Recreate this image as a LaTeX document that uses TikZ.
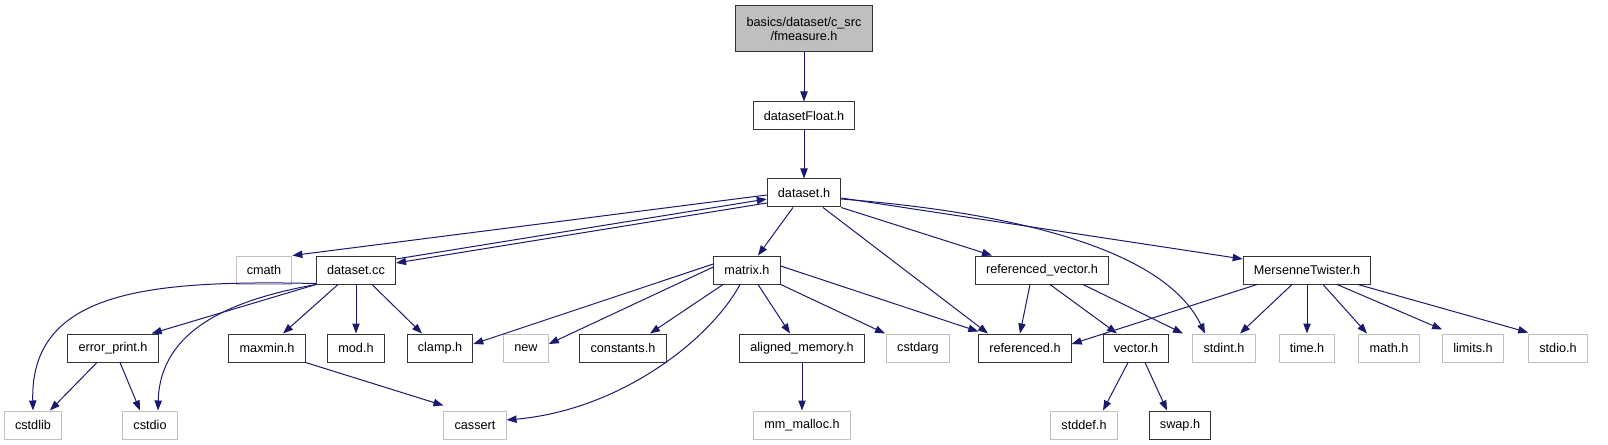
\documentclass[tikz,border=0pt]{standalone}
\usepackage{fontspec}
\setmainfont{Liberation Sans}
\usepackage{xcolor}
\usepackage{tikz}
\usetikzlibrary{arrows.meta}
\definecolor{edgeblue}{HTML}{191970}
\tikzset{
  filebox/.style={draw=black!80, line width=0.75pt, minimum height=21pt, inner xsep=8pt, inner ysep=0pt, font=\fontsize{9.5}{11}\selectfont},
  sysbox/.style={filebox, draw=gray!50},
  mainbox/.style={filebox, fill=gray!50, align=center, minimum height=34.5pt},
  dep/.style={-{Triangle[length=7.5pt,width=5.5pt]}, draw=edgeblue, line width=0.75pt}
}

\begin{document}
\begin{tikzpicture}[x=0.75pt, y=-0.75pt]
  \useasboundingbox (0,0) rectangle (1608,445);

  % top chain
  \node[mainbox] (fmeasure) at (804,29) {basics/dataset/c\_src\\/fmeasure.h};
  \node[filebox] (dsfloat) at (804,116) {datasetFloat.h};
  \node[filebox] (dsh) at (804,193) {dataset.h};

  % second row
  \node[sysbox] (cmath) at (264,270) {cmath};
  \node[filebox] (dcc) at (356,270) {dataset.cc};
  \node[filebox] (matrix) at (747,270) {matrix.h};
  \node[filebox] (refvec) at (1042,270) {referenced\_vector.h};
  \node[filebox] (mtwist) at (1307,270) {MersenneTwister.h};

  % third row
  \node[filebox] (errprint) at (113,348) {error\_print.h};
  \node[filebox] (maxmin) at (267,348) {maxmin.h};
  \node[filebox] (modh) at (356,348) {mod.h};
  \node[filebox] (clamp) at (440,348) {clamp.h};
  \node[sysbox] (newh) at (526,348) {new};
  \node[filebox] (constants) at (623,348) {constants.h};
  \node[filebox] (alignmem) at (802,348) {aligned\_memory.h};
  \node[sysbox] (cstdarg) at (918,348) {cstdarg};
  \node[filebox] (refh) at (1025,348) {referenced.h};
  \node[filebox] (vectorh) at (1136,348) {vector.h};
  \node[sysbox] (stdint) at (1224,348) {stdint.h};
  \node[sysbox] (timeh) at (1307,348) {time.h};
  \node[sysbox] (mathh) at (1389,348) {math.h};
  \node[sysbox] (limits) at (1473,348) {limits.h};
  \node[sysbox] (stdio) at (1558,348) {stdio.h};

  % bottom row
  \node[sysbox] (cstdlib) at (33,425) {cstdlib};
  \node[sysbox] (cstdio) at (150,425) {cstdio};
  \node[sysbox] (cassert) at (475,425) {cassert};
  \node[sysbox] (mmalloc) at (802,425) {mm\_malloc.h};
  \node[sysbox] (stddef) at (1084,425) {stddef.h};
  \node[filebox] (swap) at (1180,425) {swap.h};

  \draw[dep] (fmeasure) -- (dsfloat);
  \draw[dep] (dsfloat) -- (dsh);

  % dataset.h
  \draw[dep] ([shift={(0,2)}]dsh.west) -- (cmath.north east);
  \draw[dep] ([shift={(0,10)}]dsh.west) -- ([shift={(0,-7)}]dcc.east);
  \draw[dep] ([shift={(0,-11)}]dcc.east) -- ([shift={(0,6)}]dsh.west);
  \draw[dep] ([shift={(-11,0)}]dsh.south) -- ([shift={(11,0)}]matrix.north);
  \draw[dep] ([shift={(19,0)}]dsh.south) -- ([shift={(-37,0)}]refh.north);
  \draw[dep] (dsh.south east) -- ([shift={(-50,0)}]refvec.north);
  \draw[dep] ([shift={(0,6)}]dsh.east) .. controls (980,210) and (1160,240) .. ([shift={(-19,0)}]stdint.north);
  \draw[dep] ([shift={(0,5)}]dsh.east) -- ([shift={(0,-11)}]mtwist.west);

  % dataset.cc
  \draw[dep] ([shift={(0,-1)}]dcc.south west) .. controls (150,280) and (30,290) .. (cstdlib.north);
  \draw[dep] (dcc.south west) .. controls (230,300) and (160,330) .. ([shift={(8,0)}]cstdio.north);
  \draw[dep] (dcc.south west) -- ([shift={(-7,0)}]errprint.north east);
  \draw[dep] ([shift={(-18,0)}]dcc.south) -- ([shift={(16,0)}]maxmin.north);
  \draw[dep] (dcc) -- (modh);
  \draw[dep] ([shift={(16,0)}]dcc.south) -- ([shift={(-18,0)}]clamp.north);

  \draw[dep] ([shift={(-16,0)}]errprint.south) -- ([shift={(17,0)}]cstdlib.north);
  \draw[dep] ([shift={(7,0)}]errprint.south) -- ([shift={(-10,0)}]cstdio.north);
  \draw[dep] (maxmin.south east) -- ([shift={(0,-5)}]cassert.north west);

  % matrix.h
  \draw[dep] ([shift={(0,-6)}]matrix.west) -- ([shift={(0,-4)}]clamp.east);
  \draw[dep] ([shift={(0,-3)}]matrix.west) -- ([shift={(0,-4)}]newh.east);
  \draw[dep] ([shift={(-24,0)}]matrix.south) -- ([shift={(27,0)}]constants.north);
  \draw[dep] ([shift={(11,0)}]matrix.south) -- ([shift={(-12,0)}]alignmem.north);
  \draw[dep] (matrix.south east) -- ([shift={(-33,0)}]cstdarg.north);
  \draw[dep] ([shift={(0,-4)}]matrix.east) -- ([shift={(0,-2)}]refh.north west);
  \draw[dep] ([shift={(-7,0)}]matrix.south) .. controls (710,340) and (620,410) .. ([shift={(0,-5)}]cassert.east);
  \draw[dep] (alignmem) -- (mmalloc);

  % referenced_vector.h
  \draw[dep] ([shift={(-12,0)}]refvec.south) -- ([shift={(-5,0)}]refh.north);
  \draw[dep] ([shift={(8,0)}]refvec.south) -- ([shift={(-19,0)}]vectorh.north);
  \draw[dep] ([shift={(41,0)}]refvec.south) -- ([shift={(-41,0)}]stdint.north);
  \draw[dep] ([shift={(-8,0)}]vectorh.south) -- ([shift={(19,0)}]stddef.north);
  \draw[dep] ([shift={(9,0)}]vectorh.south) -- ([shift={(-13,0)}]swap.north);

  % MersenneTwister.h
  \draw[dep] ([shift={(-50,0)}]mtwist.south) -- ([shift={(0,-4)}]refh.east);
  \draw[dep] ([shift={(-15,0)}]mtwist.south) -- ([shift={(16,0)}]stdint.north);
  \draw[dep] (mtwist) -- (timeh);
  \draw[dep] ([shift={(16,0)}]mtwist.south) -- ([shift={(-22,0)}]mathh.north);
  \draw[dep] ([shift={(30,0)}]mtwist.south) -- ([shift={(0,-4)}]limits.north west);
  \draw[dep] ([shift={(51,0)}]mtwist.south) -- ([shift={(0,-1)}]stdio.north west);
\end{tikzpicture}
\end{document}
